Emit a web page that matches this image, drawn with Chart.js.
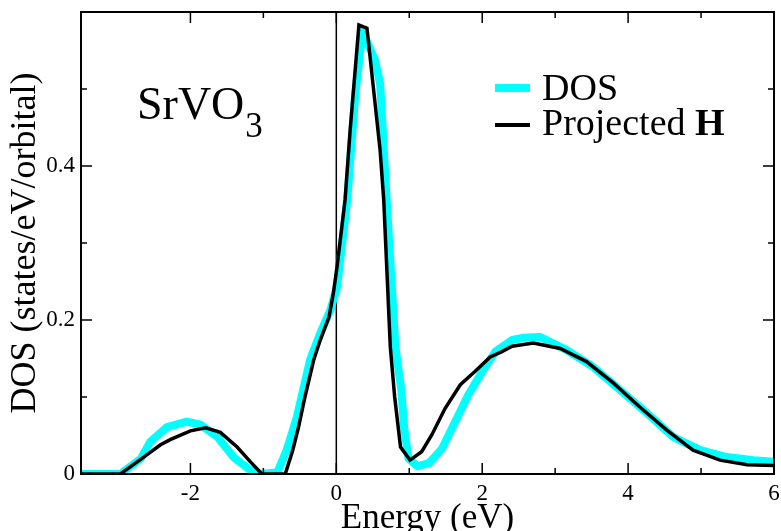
<!DOCTYPE html>
<html>
<head>
<meta charset="utf-8">
<script src="https://cdn.jsdelivr.net/npm/chart.js@4.4.1/dist/chart.umd.min.js"></script>
<style>
  html, body { margin: 0; padding: 0; background: #fff; overflow: hidden; }
  #wrap { width: 781px; height: 531px; position: relative; }
</style>
</head>
<body>
<div id="wrap"><canvas id="c" width="781" height="531"></canvas></div>
<script>
// Total density of states (cyan)
const dosEnergy = [-3.5, -2.96, -2.68, -2.55, -2.32, -2.05, -1.86, -1.63, -1.41, -1.18, -1.04, -0.81, -0.68, -0.54, -0.36, -0.22, -0.08, 0.01, 0.15, 0.26, 0.36, 0.53, 0.60, 0.69, 0.81, 0.89, 0.93, 0.99, 1.11, 1.27, 1.45, 1.63, 1.81, 2.00, 2.18, 2.41, 2.57, 2.79, 3.16, 3.52, 3.89, 4.26, 4.62, 4.99, 5.35, 5.72, 6.0];
const dosValues = [0, 0, 0.020, 0.042, 0.061, 0.068, 0.064, 0.048, 0.022, 0.005, 0, 0.002, 0.031, 0.074, 0.148, 0.183, 0.213, 0.243, 0.356, 0.494, 0.575, 0.538, 0.507, 0.356, 0.165, 0.110, 0.060, 0.020, 0.010, 0.014, 0.033, 0.068, 0.103, 0.133, 0.159, 0.174, 0.177, 0.178, 0.161, 0.139, 0.109, 0.079, 0.048, 0.031, 0.022, 0.018, 0.016];

// Density of states from the projected Hamiltonian (black)
const hEnergy = [-3.5, -2.96, -2.64, -2.41, -2.27, -2.00, -1.79, -1.59, -1.36, -1.18, -1.02, -0.70, -0.60, -0.52, -0.43, -0.31, -0.22, -0.10, -0.04, 0.01, 0.12, 0.19, 0.31, 0.42, 0.60, 0.65, 0.74, 0.80, 0.88, 1.01, 1.17, 1.31, 1.49, 1.70, 1.90, 2.11, 2.27, 2.41, 2.70, 3.07, 3.43, 3.80, 4.16, 4.53, 4.89, 5.26, 5.63, 6.0];
const hValues = [0, 0, 0.022, 0.038, 0.045, 0.056, 0.060, 0.054, 0.035, 0.016, 0, 0, 0.030, 0.060, 0.100, 0.148, 0.174, 0.204, 0.235, 0.269, 0.356, 0.447, 0.583, 0.579, 0.421, 0.356, 0.165, 0.100, 0.035, 0.018, 0.029, 0.051, 0.085, 0.116, 0.133, 0.152, 0.159, 0.166, 0.170, 0.163, 0.146, 0.118, 0.087, 0.057, 0.031, 0.018, 0.012, 0.011];

const xMajorLabels = [-2, 0, 2, 4, 6];
const yMajorLabels = [0, 0.2, 0.4];

const seriesNames = ['DOS', 'Projected '];
const boldSuffix = 'H';

const SERIF = '"Liberation Serif", "Times New Roman", serif';
const CYAN = '#00ffff';

const toPoints = (xs, ys) => xs.map((e, i) => ({ x: e, y: ys[i] }));
const near = (a, b) => Math.abs(a - b) < 1e-6;

// Frame, inward ticks on all sides, Fermi-level marker, labels and key
const decorations = {
  id: 'decorations',
  beforeDatasetsDraw(chart) {
    const { ctx, chartArea: a, scales: { x } } = chart;
    const x0 = x.getPixelForValue(0);
    ctx.save();
    ctx.strokeStyle = '#000';
    ctx.lineWidth = 1.5;
    ctx.beginPath();
    ctx.moveTo(x0, a.top);
    ctx.lineTo(x0, a.bottom);
    ctx.stroke();
    ctx.restore();
  },
  afterDraw(chart) {
    const { ctx, chartArea: a, scales: { x, y } } = chart;
    ctx.save();
    ctx.strokeStyle = '#000';
    ctx.lineWidth = 2;
    ctx.strokeRect(a.left, a.top, a.right - a.left, a.bottom - a.top);

    ctx.lineWidth = 1.5;
    ctx.beginPath();
    x.ticks.forEach(t => {
      const v = t.value;
      if (!near(v, Math.round(v))) return;
      const len = Math.round(v) % 2 === 0 ? 11 : 6;
      const px = x.getPixelForValue(v);
      ctx.moveTo(px, a.bottom); ctx.lineTo(px, a.bottom - len);
      ctx.moveTo(px, a.top); ctx.lineTo(px, a.top + len);
    });
    y.ticks.forEach(t => {
      const v = t.value * 10;
      if (!near(v, Math.round(v))) return;
      const len = Math.round(v) % 2 === 0 ? 11 : 6;
      const py = y.getPixelForValue(t.value);
      ctx.moveTo(a.left, py); ctx.lineTo(a.left + len, py);
      ctx.moveTo(a.right, py); ctx.lineTo(a.right - len, py);
    });
    ctx.stroke();

    // compound label
    ctx.fillStyle = '#000';
    ctx.textBaseline = 'alphabetic';
    ctx.textAlign = 'left';
    const lx = a.left + 56, ly = a.top + 107;
    ctx.font = '46px ' + SERIF;
    ctx.fillText('SrVO', lx, ly);
    const w = ctx.measureText('SrVO').width;
    ctx.font = '35px ' + SERIF;
    ctx.fillText('3', lx + w + 1, ly + 18);

    // key
    const kx = a.left + 414, ky = a.top + 76;
    ctx.lineCap = 'butt';
    ctx.strokeStyle = CYAN; ctx.lineWidth = 8;
    ctx.beginPath(); ctx.moveTo(kx, ky); ctx.lineTo(kx + 35, ky); ctx.stroke();
    ctx.strokeStyle = '#000'; ctx.lineWidth = 4;
    ctx.beginPath(); ctx.moveTo(kx, ky + 37); ctx.lineTo(kx + 35, ky + 37); ctx.stroke();
    ctx.font = '38px ' + SERIF;
    ctx.fillText(seriesNames[0], kx + 47, ky + 12);
    ctx.fillText(seriesNames[1], kx + 47, ky + 47);
    const pw = ctx.measureText(seriesNames[1]).width;
    ctx.font = 'bold 38px ' + SERIF;
    ctx.fillText(boldSuffix, kx + 47 + pw, ky + 47);
    ctx.restore();
  }
};

new Chart(document.getElementById('c'), {
  type: 'line',
  data: {
    datasets: [
      {
        label: 'DOS',
        data: toPoints(dosEnergy, dosValues),
        borderColor: CYAN,
        borderWidth: 8,
        pointRadius: 0,
        tension: 0,
        borderJoinStyle: 'round',
        fill: false,
        order: 2
      },
      {
        label: 'Projected H',
        data: toPoints(hEnergy, hValues),
        borderColor: '#000',
        borderWidth: 3.5,
        pointRadius: 0,
        tension: 0,
        borderJoinStyle: 'miter',
        fill: false,
        order: 1
      }
    ]
  },
  options: {
    responsive: false,
    animation: false,
    parsing: false,
    layout: { padding: { top: 12, right: 7, left: 0, bottom: 0 } },
    plugins: { legend: { display: false }, tooltip: { enabled: false } },
    scales: {
      x: {
        type: 'linear',
        min: -3.5,
        max: 6,
        grid: { display: false, drawTicks: false },
        border: { display: false },
        ticks: {
          stepSize: 1,
          autoSkip: false,
          maxRotation: 0,
          padding: 6,
          color: '#000',
          font: { family: SERIF, size: 23 },
          callback: v => xMajorLabels.some(m => near(m, v)) ? String(Math.round(v)) : ''
        },
        title: {
          display: true,
          text: 'Energy (eV)',
          color: '#000',
          font: { family: SERIF, size: 35, lineHeight: 1 },
          padding: { top: 0, bottom: -5 }
        },
        afterFit(s) { s.height = 57; s.paddingLeft = 0; s.paddingRight = 0; }
      },
      y: {
        type: 'linear',
        min: 0,
        max: 0.6,
        grid: { display: false, drawTicks: false },
        border: { display: false },
        ticks: {
          stepSize: 0.1,
          autoSkip: false,
          padding: 6,
          color: '#000',
          font: { family: SERIF, size: 23 },
          callback: v => {
            const m = yMajorLabels.find(t => near(t, v));
            return m === undefined ? '' : (m === 0 ? '0' : m.toFixed(1));
          }
        },
        title: {
          display: true,
          text: 'DOS (states/eV/orbital)',
          color: '#000',
          font: { family: SERIF, size: 36, lineHeight: 1 },
          padding: { top: 8, bottom: 0 }
        },
        afterFit(s) { s.width = 81; s.paddingTop = 0; s.paddingBottom = 0; }
      }
    }
  },
  plugins: [decorations]
});
</script>
</body>
</html>
